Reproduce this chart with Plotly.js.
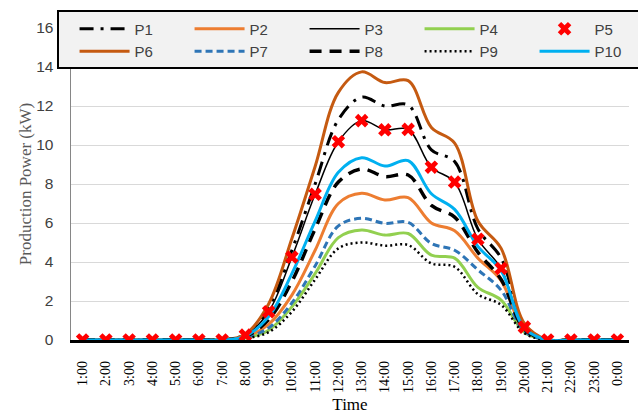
<!DOCTYPE html>
<html>
<head>
<meta charset="utf-8">
<script src="https://cdn.plot.ly/plotly-3.0.1.min.js"></script>
<style>html,body{margin:0;padding:0;background:#fff;}#chart{width:638px;height:416px;}</style>
</head>
<body>
<div id="chart"></div>
<script>
var hours = ["1:00","2:00","3:00","4:00","5:00","6:00","7:00","8:00","9:00","10:00","11:00","12:00",
             "13:00","14:00","15:00","16:00","17:00","18:00","19:00","20:00","21:00","22:00","23:00","0:00"];
var yTicks = [0,2,4,6,8,10,12,14,16];

var P1  = [0,0,0,0,0,0,0, 0.28,1.65,4.6,8.0,11.3,12.45,12.0,12.05,9.75,9.15,5.7,4.2,0.78, 0,0,0,0];
var P2  = [0,0,0,0,0,0,0, 0.15,0.8,2.3,4.6,7.0,7.52,7.18,7.3,6.0,5.6,4.2,3.05,0.5, 0,0,0,0];
var P3  = [0,0,0,0,0,0,0, 0.25,1.45,4.25,7.47,10.17,11.25,10.78,10.8,8.86,8.1,5.17,3.67,0.66, 0,0,0,0];
var P4  = [0,0,0,0,0,0,0, 0.1,0.5,1.7,3.4,5.25,5.64,5.38,5.46,4.35,4.2,2.7,2.05,0.4, 0,0,0,0];
var P5  = [0,0,0,0,0,0,0, 0.25,1.45,4.25,7.47,10.17,11.25,10.78,10.8,8.86,8.1,5.17,3.67,0.66, 0,0,0,0];
var P6  = [0,0,0,0,0,0,0, 0.3,1.85,5.2,8.9,12.7,13.75,13.2,13.3,10.9,10.1,6.1,4.7,0.85, 0,0,0,0];
var P7  = [0,0,0,0,0,0,0, 0.12,0.62,1.9,3.8,5.85,6.24,5.98,6.03,4.95,4.6,3.6,2.55,0.45, 0,0,0,0];
var P8  = [0,0,0,0,0,0,0, 0.18,1.05,3.0,5.7,8.1,8.77,8.38,8.46,6.9,6.3,4.5,3.1,0.55, 0,0,0,0];
var P9  = [0,0,0,0,0,0,0, 0.08,0.4,1.45,3.1,4.7,5.0,4.84,4.87,3.93,3.75,2.35,1.8,0.35, 0,0,0,0];
var P10 = [0,0,0,0,0,0,0, 0.2,1.2,3.4,6.1,8.6,9.35,8.92,9.2,7.5,6.7,4.8,3.55,0.6, 0,0,0,0];

function lineTrace(name, y, color, width, dash) {
  return {type:'scatter', mode:'lines', name:name, x:hours, y:y,
          line:{color:color, width:width, dash:dash, shape:'spline', smoothing:1}};
}

var traces = [
  lineTrace('P1', P1, '#000000', 3, '14px,7px,3px,7px'),
  lineTrace('P2', P2, '#ED7D31', 3, 'solid'),
  lineTrace('P3', P3, '#000000', 1.5, 'solid'),
  lineTrace('P4', P4, '#92D050', 3, 'solid'),
  {type:'scatter', mode:'markers', name:'P5', x:hours, y:P5,
   marker:{symbol:'x', size:12, color:'#FF0000', line:{width:0}}},
  lineTrace('P6', P6, '#C55A11', 3, 'solid'),
  lineTrace('P7', P7, '#2E75B6', 3, '7px,4px'),
  lineTrace('P8', P8, '#000000', 3.5, '12px,8px'),
  lineTrace('P9', P9, '#000000', 2.5, '2px,3px'),
  lineTrace('P10', P10, '#00B0F0', 3, 'solid')
];
traces.forEach(function(t,i){ t.legendrank = i+1; });
var ordered = traces.slice(0,4).concat(traces.slice(5)).concat([traces[4]]);

var layout = {
  width:638, height:416,
  margin:{l:71, r:9, t:28, b:76, autoexpand:false},
  paper_bgcolor:'#ffffff', plot_bgcolor:'#ffffff',
  showlegend:true,
  legend:{orientation:'h', x:-0.0251, xanchor:'left', y:1.0561, yanchor:'top',
          bgcolor:'#F2F2F2', bordercolor:'#000000', borderwidth:2,
          entrywidth:50, entrywidthmode:'pixels', itemwidth:50, traceorder:'normal',
          title:{text:'\u00A0\u00A0', side:'left', font:{size:10}},
          font:{family:'"Liberation Sans", sans-serif', size:15, color:'#404040'}},
  xaxis:{type:'category', range:[-0.5,23.5], tickvals:hours, ticktext:hours, tickangle:-90,
         showline:true, linecolor:'#000000', linewidth:2.5, showgrid:false, ticks:'',
         ticklabelstandoff:13,
         tickfont:{family:'"Liberation Serif", serif', size:14, color:'#000000'},
         title:{text:'Time', standoff:6, font:{family:'"Liberation Serif", serif', size:17, color:'#000000'}}},
  yaxis:{range:[0,16], tickvals:yTicks, showgrid:true, gridcolor:'#D9D9D9', gridwidth:1,
         showline:true, linecolor:'#868686', linewidth:1.5, zeroline:false, ticks:'',
         ticklabelstandoff:13,
         tickfont:{family:'"Liberation Sans", sans-serif', size:15.5, color:'#404040'},
         title:{text:'Production Power (kW)', standoff:0, font:{family:'"Liberation Serif", serif', size:17, color:'#595959'}}},
  hovermode:false
};

Plotly.newPlot('chart', ordered, layout, {staticPlot:true, displayModeBar:false});
</script>
</body>
</html>
